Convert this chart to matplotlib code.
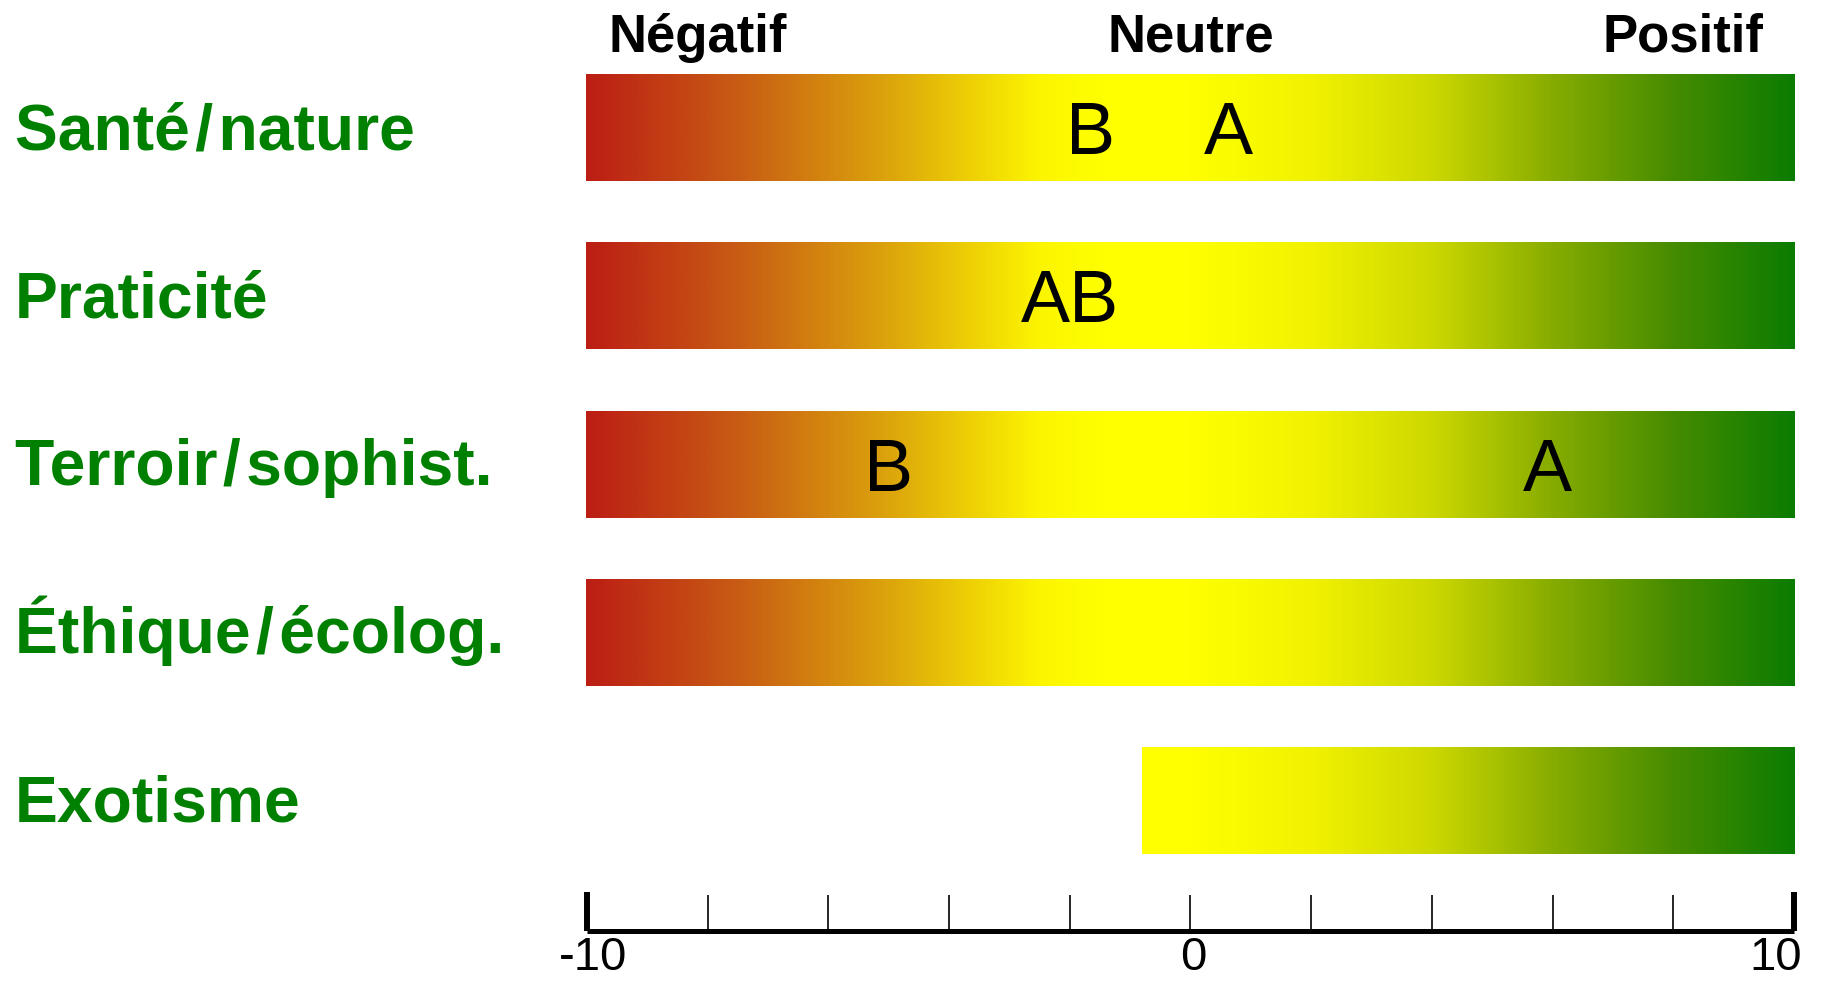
import numpy as np
import matplotlib
matplotlib.use("Agg")
import matplotlib.pyplot as plt
from matplotlib.colors import LinearSegmentedColormap, Normalize
from matplotlib import transforms
from matplotlib.ticker import FixedLocator, FixedFormatter

plt.rcParams['font.family'] = ['Liberation Sans', 'DejaVu Sans']

# ---- data ----
categories = ["Santé\u200a/\u200anature", "Praticité", "Terroir\u200a/\u200asophist.",
              "Éthique\u200a/\u200aécolog.", "Exotisme"]
bar_start = [-10, -10, -10, -10, -0.8]
bar_end = [10, 10, 10, 10, 10]
letter_rows = [0, 0, 1, 2, 2]
letter_text = ["B", "A", "AB", "B", "A"]
letter_value = [-1.66, 0.62, -2.0, -5.0, 5.9]
header_text = ["Négatif", "Neutre", "Positif"]
header_value = [-8.15, 0.0, 8.15]
major_ticks = [-10, 10]
minor_ticks = [-8, -6, -4, -2, 0, 2, 4, 6, 8]
tick_labels = {-10: "-10", 0: "0", 10: "10"}

# gradient colour stops (value, rgb)
stops = [(-10, (188, 30, 20)), (-7.5, (200, 92, 20)), (-5, (220, 165, 12)),
         (-2.5, (252, 245, 0)), (-1.5, (255, 255, 0)), (0, (255, 255, 0)),
         (2, (242, 242, 0)), (4, (205, 216, 0)), (6, (135, 172, 0)),
         (8, (70, 140, 0)), (10, (12, 124, 0))]
cmap = LinearSegmentedColormap.from_list(
    "grad", [((v + 10) / 20, tuple(c / 255 for c in rgb)) for v, rgb in stops], N=512)
norm = Normalize(-10, 10)

W, H = 1822, 984
fig = plt.figure(figsize=(W / 100, H / 100), dpi=100)

left_px, right_px = 586, 1795
row0_px, row_step_px = 128, 168.1
ax = fig.add_axes([left_px / W, 0, (right_px - left_px) / W, 1])
ylim = ((H - row0_px) / row_step_px, -row0_px / row_step_px)
ax.axis('off')

bar_h = 0.635
for i, (s, e) in enumerate(zip(bar_start, bar_end)):
    xs = np.linspace(s, e, 600)[None, :]
    ax.imshow(xs, cmap=cmap, norm=norm, aspect='auto', interpolation='bilinear',
              extent=[s, e, i + bar_h / 2, i - bar_h / 2])
ax.set_xlim(-10, 10)
ax.set_ylim(*ylim)

# letters
for r, t, v in zip(letter_rows, letter_text, letter_value):
    ax.text(v, r + 0.157, t, fontsize=53, ha='center', va='baseline', color='black')

# headers
for t, v in zip(header_text, header_value):
    ax.text(v, -0.455, t, fontsize=38, fontweight='bold', ha='center', va='baseline', color='black')

# row labels
tr = transforms.blended_transform_factory(fig.transFigure, ax.transData)
for i, c in enumerate(categories):
    fig.text(15 / W, i + 0.125, c, transform=tr, fontsize=46.3, fontweight='bold',
             color='#008000', ha='left', va='baseline')

# scale axis
axis_px = 931
ax2 = fig.add_axes([left_px / W + 0.0005, 1 - axis_px / H, (right_px - left_px - 2) / W, 60 / H])
ax2.set_xlim(-10, 10)
ax2.set_ylim(0, 1)
ax2.patch.set_alpha(0)
for sp in ['top', 'left', 'right']:
    ax2.spines[sp].set_visible(False)
ax2.spines['bottom'].set_linewidth(3.6)
ax2.spines['bottom'].set_capstyle('butt')
ax2.set_yticks([])
ax2.xaxis.set_major_locator(FixedLocator(major_ticks))
ax2.xaxis.set_major_formatter(FixedFormatter([tick_labels[t] for t in major_ticks]))
ax2.xaxis.set_minor_locator(FixedLocator(minor_ticks))
ax2.xaxis.set_minor_formatter(FixedFormatter([tick_labels.get(t, "") for t in minor_ticks]))
ax2.tick_params(axis='x', which='major', direction='in', length=28, width=4.3,
                labelsize=34, pad=3.5)
ax2.tick_params(axis='x', which='minor', direction='in', length=26, width=1.2,
                labelsize=34, pad=3.5)

# small horizontal nudges of the end labels to match the reference placement
fig.canvas.draw()
for lab in ax2.xaxis.get_majorticklabels():
    dx = 6 if lab.get_text().startswith('-') else -18
    lab.set_transform(lab.get_transform() + transforms.ScaledTranslation(dx / 100, 0, fig.dpi_scale_trans))
for lab in ax2.xaxis.get_minorticklabels():
    lab.set_transform(lab.get_transform() + transforms.ScaledTranslation(3 / 100, 0, fig.dpi_scale_trans))

fig.savefig("out.png", dpi=100)
